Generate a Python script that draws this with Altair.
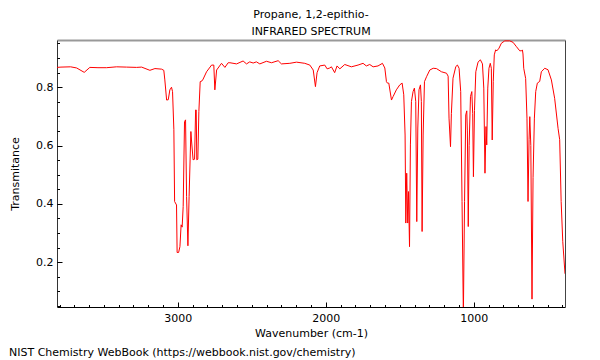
import altair as alt
import pandas as pd

# Wavenumber (cm-1) and transmittance
wavenumber = [
    3817, 3790, 3725, 3684, 3633, 3595, 3540, 3482, 3414, 3347, 3279, 3245,
    3189, 3155, 3110, 3095, 3088, 3076, 3065, 3054, 3043, 3036, 3027, 3022,
    3009, 3005, 2995, 2986, 2978, 2971, 2964, 2955, 2948, 2941, 2932, 2924,
    2912, 2908, 2897, 2887, 2880, 2876, 2872, 2865, 2858, 2849, 2836, 2829,
    2806, 2772, 2757, 2750, 2738, 2705, 2682, 2660, 2648, 2603, 2559, 2536,
    2514, 2491, 2469, 2446, 2401, 2367, 2322, 2300, 2243, 2198, 2142, 2108,
    2085, 2070, 2059, 2041, 2007, 1991, 1973, 1962, 1940, 1924, 1905, 1872,
    1827, 1782, 1748, 1726, 1703, 1680, 1647, 1617, 1601, 1590, 1583, 1574,
    1556, 1545, 1523, 1500, 1484, 1473, 1464, 1459, 1453, 1446, 1441, 1434,
    1428, 1421, 1410, 1401, 1392, 1385, 1378, 1370, 1360, 1354, 1349, 1342,
    1333, 1319, 1297, 1274, 1252, 1218, 1184, 1173, 1167, 1157, 1151, 1140,
    1121, 1110, 1099, 1088, 1079, 1070, 1062, 1054, 1047, 1043, 1037, 1031,
    1022, 1013, 1007, 1002, 995, 986, 971, 955, 941, 932, 924, 917,
    912, 905, 897, 888, 881, 875, 868, 861, 852, 843, 829, 813,
    790, 757, 734, 711, 689, 676, 671, 667, 662, 649, 640, 633,
    626, 621, 614, 606, 599, 590, 581, 570, 554, 543, 520, 498,
    475, 453, 430, 419, 409, 398, 383,
]
transmittance = [
    0.868, 0.869, 0.870, 0.866, 0.851, 0.868, 0.867, 0.867, 0.870, 0.869, 0.868, 0.869,
    0.858, 0.864, 0.862, 0.858, 0.825, 0.756, 0.757, 0.791, 0.800, 0.785, 0.654, 0.408,
    0.396, 0.233, 0.233, 0.253, 0.328, 0.320, 0.391, 0.682, 0.688, 0.425, 0.256, 0.425,
    0.648, 0.619, 0.551, 0.553, 0.722, 0.722, 0.551, 0.553, 0.716, 0.819, 0.822, 0.828,
    0.853, 0.876, 0.876, 0.791, 0.859, 0.882, 0.868, 0.884, 0.884, 0.880, 0.890, 0.880,
    0.887, 0.883, 0.887, 0.880, 0.889, 0.884, 0.891, 0.880, 0.882, 0.886, 0.882, 0.876,
    0.859, 0.802, 0.850, 0.873, 0.876, 0.863, 0.866, 0.870, 0.850, 0.873, 0.863, 0.878,
    0.870, 0.876, 0.882, 0.873, 0.878, 0.870, 0.873, 0.882, 0.866, 0.819, 0.814, 0.814,
    0.756, 0.768, 0.791, 0.808, 0.814, 0.774, 0.636, 0.334, 0.505, 0.334, 0.442, 0.253,
    0.602, 0.751, 0.785, 0.797, 0.751, 0.339, 0.660, 0.791, 0.808, 0.751, 0.305, 0.636,
    0.819, 0.836, 0.859, 0.865, 0.864, 0.853, 0.848, 0.838, 0.694, 0.596, 0.710, 0.831,
    0.871, 0.876, 0.865, 0.785, 0.408, 0.020, 0.408, 0.705, 0.719, 0.650, 0.322, 0.600,
    0.768, 0.785, 0.710, 0.493, 0.720, 0.853, 0.886, 0.894, 0.880, 0.797, 0.505, 0.665,
    0.602, 0.797, 0.865, 0.882, 0.865, 0.619, 0.820, 0.911, 0.928, 0.925, 0.934, 0.951,
    0.959, 0.959, 0.954, 0.939, 0.925, 0.925, 0.928, 0.914, 0.865, 0.830, 0.694, 0.408,
    0.620, 0.699, 0.600, 0.073, 0.490, 0.694, 0.785, 0.814, 0.820, 0.853, 0.865, 0.860,
    0.825, 0.762, 0.659, 0.620, 0.408, 0.270, 0.160,
]

x_major = [1000, 2000, 3000]
x_minor = list(range(400, 3900, 100))
y_major = [0.2, 0.4, 0.6, 0.8]
y_minor = [round(0.05 * i, 2) for i in range(1, 20)]

title_lines = ["Propane, 1,2-epithio-", "INFRARED SPECTRUM"]
x_title = "Wavenumber (cm-1)"
y_title = "Transmitance"
credit = "NIST Chemistry WebBook (https://webbook.nist.gov/chemistry)"

W, H = 508, 267
FONT = "DejaVu Sans"

df = pd.DataFrame({"w": wavenumber, "t": transmittance})

xs = alt.Scale(domain=[383, 3817], reverse=True, nice=False, zero=False)
ys = alt.Scale(domain=[0.046, 0.962], nice=False, zero=False)

base = alt.Chart(df)

line = base.mark_line(color="#ff0000", strokeWidth=1, clip=True).encode(
    x=alt.X("w:Q", scale=xs, axis=alt.Axis(
        orient="bottom", values=x_major, format="d", ticks=False, tickSize=0,
        labelPadding=5, labelFont=FONT, labelFontSize=11, labelColor="black",
        domain=True, domainColor="black", domainWidth=1, grid=False,
        title=x_title, titleFont=FONT, titleFontSize=11, titleFontWeight="normal",
        titleColor="black", titleY=26, titleBaseline="middle")),
    y=alt.Y("t:Q", scale=ys, axis=alt.Axis(
        orient="left", values=y_major, format=".1f", ticks=False, tickSize=0,
        labelPadding=4, labelFont=FONT, labelFontSize=11, labelColor="black",
        domain=True, domainColor="#333333", domainWidth=1, grid=False,
        title=y_title, titleFont=FONT, titleFontSize=11, titleFontWeight="normal",
        titleColor="black", titleX=-42, titleY=H / 2, titleAngle=270,
        titleBaseline="middle", titleAlign="center")),
)


def tick_layer(xvals, yvals, size):
    return base.mark_line(strokeOpacity=0).encode(
        x=alt.X("w:Q", scale=xs, axis=alt.Axis(
            orient="top", offset=-H, values=xvals, labels=False, domain=False,
            ticks=True, tickSize=size, tickColor="black", tickWidth=1,
            grid=False, title=None)),
        y=alt.Y("t:Q", scale=ys, axis=alt.Axis(
            orient="right", offset=-W, values=yvals, labels=False, domain=False,
            ticks=True, tickSize=size, tickColor="black", tickWidth=1,
            grid=False, title=None)),
    )


major = tick_layer(x_major, y_major, 5)
minor = tick_layer(x_minor, y_minor, 2.5)

frame = base.mark_line(strokeOpacity=0).encode(
    x=alt.X("w:Q", scale=xs, axis=alt.Axis(
        orient="top", labels=False, ticks=False, domain=True,
        domainColor="#999999", domainWidth=2, grid=False, title=None)),
    y=alt.Y("t:Q", scale=ys, axis=alt.Axis(
        orient="right", labels=False, ticks=False, domain=True,
        domainColor="#444444", domainWidth=1, grid=False, title=None)),
)

credit_text = alt.Chart(pd.DataFrame({"c": [credit]})).mark_text(
    align="left", baseline="middle", font=FONT, fontSize=11, color="black"
).encode(text="c:N", x=alt.value(-48), y=alt.value(313))

chart = alt.layer(line, minor, major, frame, credit_text).resolve_axis(
    x="independent", y="independent"
).properties(
    width=W, height=H,
    title=alt.TitleParams(text=title_lines, font=FONT, fontSize=11,
                          fontWeight="normal", color="black", anchor="middle",
                          frame="group", lineHeight=17, offset=3),
    autosize=alt.AutoSizeParams(type="none"),
    padding={"left": 49, "top": 32, "right": 27, "bottom": 52},
).configure_view(stroke=None)

chart.save("out.html", embed_options={"renderer": "svg", "actions": False})
